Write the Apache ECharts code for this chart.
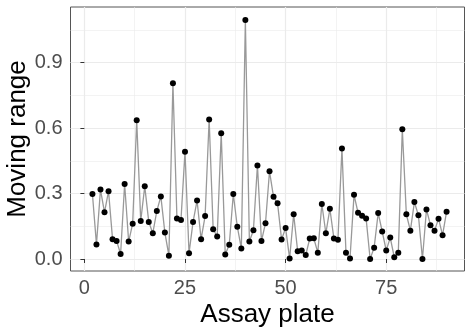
<!DOCTYPE html>
<html>
<head>
<meta charset="utf-8">
<script src="https://cdn.jsdelivr.net/npm/echarts@6/dist/echarts.min.js"></script>
<style>
html,body{margin:0;padding:0;background:#fff;}
#chart{width:472px;height:333px;}
</style>
</head>
<body>
<div id="chart"></div>
<script>
const plates = [2,3,4,5,6,7,8,9,10,11,12,13,14,15,16,17,18,19,20,21,22,23,24,25,26,27,28,29,30,
  31,32,33,34,35,36,37,38,39,40,41,42,43,44,45,46,47,48,49,50,51,52,53,54,55,56,57,58,59,60,
  61,62,63,64,65,66,67,68,69,70,71,72,73,74,75,76,77,78,79,80,81,82,83,84,85,86,87,88,89,90];
const movingRange = [0.298,0.067,0.318,0.214,0.311,0.091,0.083,0.023,0.344,0.080,0.162,0.636,0.174,0.333,0.170,0.118,0.220,0.287,
  0.121,0.015,0.806,0.186,0.179,0.492,0.026,0.170,0.268,0.091,0.197,0.639,0.136,0.103,0.576,0.021,0.065,
  0.298,0.148,0.048,1.095,0.080,0.132,0.429,0.082,0.164,0.402,0.285,0.255,0.089,0.142,0.002,0.205,0.035,
  0.039,0.018,0.094,0.095,0.029,0.252,0.118,0.230,0.094,0.088,0.506,0.029,0.002,0.294,0.212,0.198,0.186,0.000,
  0.052,0.211,0.126,0.039,0.098,0.008,0.029,0.595,0.205,0.130,0.261,0.200,0.000,0.227,0.155,0.129,0.185,0.109,0.217];
const xTicks = [0,25,50,75];
const xMinor = [12.5,37.5,62.5,87.5];
const yTicks = [0,0.3,0.6,0.9];
const yMinor = [0.15,0.45,0.75,1.05];

const chart = echarts.init(document.getElementById('chart'), null, {renderer:'canvas'});
const gridLine = (w) => ({color:'#ebebeb', width:w, type:'solid'});
const markData = []
  .concat(xMinor.map(v => ({xAxis:v, lineStyle:gridLine(0.6)})))
  .concat(yMinor.map(v => ({yAxis:v, lineStyle:gridLine(0.6)})))
  .concat(xTicks.map(v => ({xAxis:v, lineStyle:gridLine(1.2)})))
  .concat(yTicks.map(v => ({yAxis:v, lineStyle:gridLine(1.2)})));

const labelStyle = {color:'#4d4d4d', fontSize:20, fontFamily:'Liberation Sans, Arial, sans-serif'};
chart.setOption({
  animation:false,
  backgroundColor:'#fff',
  grid:{left:70.5, right:7.5, top:7, bottom:62, show:true, borderColor:'#555', borderWidth:1,
        backgroundColor:'transparent', containLabel:false, outerBoundsMode:'none'},
  xAxis:{
    type:'value', min:-3.45, max:94.45,
    name:'Assay plate', nameLocation:'middle', nameGap:31, nameMoveOverlap:false,
    nameTextStyle:{color:'#000', fontSize:26, fontFamily:'Liberation Sans, Arial, sans-serif'},
    axisLine:{show:false},
    axisTick:{show:true, customValues:xTicks, length:4, lineStyle:{color:'#333', width:1}},
    axisLabel:Object.assign({customValues:xTicks, margin:7, formatter:v=>String(v)}, labelStyle),
    splitLine:{show:false}
  },
  yAxis:{
    type:'value', min:-0.055, max:1.155,
    name:'Moving range', nameLocation:'middle', nameGap:40, nameMoveOverlap:false,
    nameTextStyle:{color:'#000', fontSize:26, fontFamily:'Liberation Sans, Arial, sans-serif'},
    axisLine:{show:false},
    axisTick:{show:true, customValues:yTicks, length:4, lineStyle:{color:'#333', width:1}},
    axisLabel:Object.assign({customValues:yTicks, margin:8, formatter:v=>v.toFixed(1)}, labelStyle),
    splitLine:{show:false}
  },
  series:[
    {
      type:'line', data:[], z:0, silent:true,
      markLine:{silent:true, z:0, symbol:['none','none'], label:{show:false}, animation:false, data:markData}
    },
    {
      type:'line', z:10,
      data:plates.map((p,i)=>[p, movingRange[i]]),
      lineStyle:{color:'#999999', width:1.3},
      symbol:'circle', symbolSize:6,
      itemStyle:{color:'#000'},
      showAllSymbol:true
    }
  ]
});
</script>
</body>
</html>
